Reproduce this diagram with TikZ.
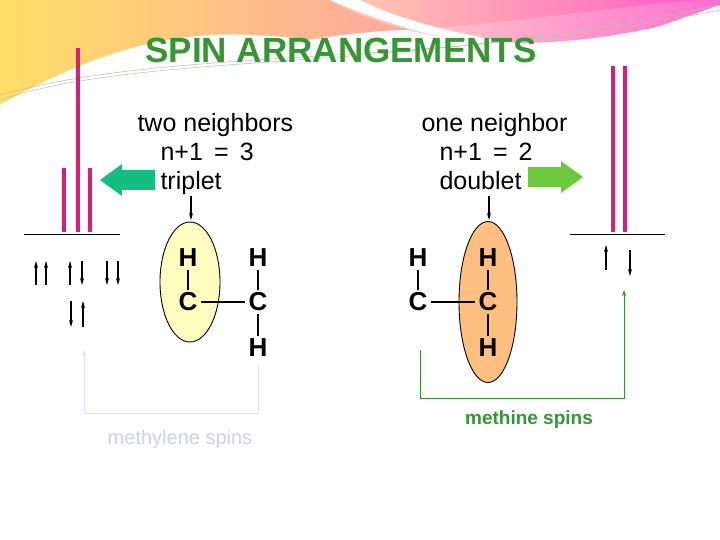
\documentclass[tikz,border=0pt]{standalone}
\usepackage{fontspec}
\setmainfont{Liberation Sans}
\usetikzlibrary{arrows.meta,shapes.geometric}
\definecolor{titlegreen}{RGB}{52,150,52}
\definecolor{peakc}{RGB}{215,30,120}
\definecolor{tealc}{RGB}{20,190,130}
\definecolor{limec}{RGB}{110,200,60}
\begin{document}
\begin{tikzpicture}[x=1pt,y=-1pt,
  peak/.style={draw=peakc,line width=4pt},
  base/.style={draw=black,line width=0.8pt},
  spin/.style={draw=black,line width=1.3pt,-{Stealth[length=7pt,width=4pt]}},
  atom/.style={font=\bfseries\fontsize{26}{26}\selectfont,inner sep=3pt},
  bond/.style={draw=black,line width=2.2pt},
  lbl/.style={font=\fontsize{25}{29}\selectfont,align=left,anchor=north west}]
\useasboundingbox (0,0) rectangle (720,540);
\fill[white] (0,0) rectangle (720,540);
% background swoosh
\shade[left color=orange!40!yellow!70,right color=magenta!60!red!60,opacity=0.85]
  (0,0) -- (0,215) .. controls (60,120) and (200,40) .. (400,30)
  .. controls (520,25) and (640,0) .. (720,0) -- cycle;
\shade[left color=orange!30,right color=magenta!70!red!70,opacity=0.8]
  (330,0) .. controls (420,50) and (560,60) .. (720,10) -- (720,0) -- cycle;
\fill[white] (0,105) .. controls (80,60) and (160,30) .. (250,35)
  .. controls (380,40) and (470,80) .. (580,50) .. controls (640,35) and (690,15) .. (720,5) -- (720,540) -- (0,540) -- cycle;
\fill[white] (330,0) .. controls (400,30) and (470,50) .. (560,48) .. controls (470,40) and (400,20) .. (360,0) -- cycle;
\draw[cyan!50!gray!60,line width=0.5pt] (0,100) .. controls (150,50) and (400,75) .. (720,5);
\draw[orange!60!gray!60,line width=0.5pt] (0,95) .. controls (180,45) and (420,70) .. (720,10);
\node[font=\bfseries\fontsize{35}{35}\selectfont,text=titlegreen] (title) at (341,50) {SPIN ARRANGEMENTS};
% left spectrum
\draw[base] (24,234) -- (120,234);
\draw[peak] (78,48) -- (78,232);
\draw[peak] (64,168) -- (64,232);
\draw[peak] (90,168) -- (90,232);
% right spectrum
\draw[base] (570,234) -- (665,234);
\draw[peak] (613,66) -- (613,232);
\draw[peak] (625,66) -- (625,232);
% labels
\node[lbl] (l1) at (134,110) {two neighbors\\\hspace*{23pt}n+1 \,= \,3\\\hspace*{23pt}triplet};
\node[lbl] (l2) at (418,110) {one neighbor\\\hspace*{18pt}n+1 \,= \,2\\\hspace*{18pt}doublet};
% big arrows
\fill[tealc] (100,180) -- (122,164) -- (122,170) -- (155,170) -- (155,190) -- (122,190) -- (122,196) -- cycle;
\fill[limec] (583,177) -- (561,161) -- (561,167) -- (528,167) -- (528,187) -- (561,187) -- (561,193) -- cycle;
% small pointer arrows
\coordinate (p1) at (191,196); \coordinate (p2) at (191,220);
\draw[spin] (p1) -- (p2);
\coordinate (p3) at (489,196); \coordinate (p4) at (489,220);
\draw[spin] (p3) -- (p4);
% ellipses
\node[ellipse,draw=black,fill=yellow!25,minimum width=60,minimum height=120,line width=0.9pt] (e1) at (190,282) {};
\node[ellipse,draw=black,fill=orange!50,minimum width=58,minimum height=161,line width=0.9pt] (e2) at (488,302) {};
% left molecule
\node[atom] (h1) at (188,258) {H};
\node[atom] (c1) at (188,302) {C};
\node[atom] (h2) at (258,258) {H};
\node[atom] (c2) at (258,302) {C};
\node[atom] (h3) at (258,348) {H};
\draw[bond] (h1) -- (c1); \draw[bond] (c1) -- (c2); \draw[bond] (h2) -- (c2); \draw[bond] (c2) -- (h3);
% right molecule
\node[atom] (h4) at (418,258) {H};
\node[atom] (c3) at (418,302) {C};
\node[atom] (h5) at (488,258) {H};
\node[atom] (c4) at (488,302) {C};
\node[atom] (h6) at (488,348) {H};
\draw[bond] (h4) -- (c3); \draw[bond] (c3) -- (c4); \draw[bond] (h5) -- (c4); \draw[bond] (c4) -- (h6);
% left spins
\foreach \x in {36,46,70} \draw[spin] (\x,285) -- (\x,261);
\foreach \x in {82,107,118} \draw[spin] (\x,261) -- (\x,285);
\draw[spin] (71,301) -- (71,327);
\draw[spin] (83,327) -- (83,301);
% right spins
\draw[spin] (606,270) -- (606,245);
\draw[spin] (630,250) -- (630,276);
% connectors
\coordinate (a1) at (258,366); \coordinate (a2) at (84,350);
\draw[cyan!15!blue!12,line width=1pt,-{Stealth[length=6pt,width=4pt]}] (a1) -- (258,413) -- (84,413) -- (a2);
\node[text=cyan!20!blue!18,font=\fontsize{20}{22}\selectfont] (m1) at (180,439) {methylene spins};
\coordinate (b1) at (420,350); \coordinate (b2) at (624,290);
\draw[green!45!black!80,line width=0.8pt,-{Stealth[length=6pt,width=4pt]}] (b1) -- (420,398) -- (624,398) -- (b2);
\node[text=titlegreen,font=\bfseries\fontsize{19}{22}\selectfont] (m2) at (529,420) {methine spins};
\end{tikzpicture}
\end{document}
